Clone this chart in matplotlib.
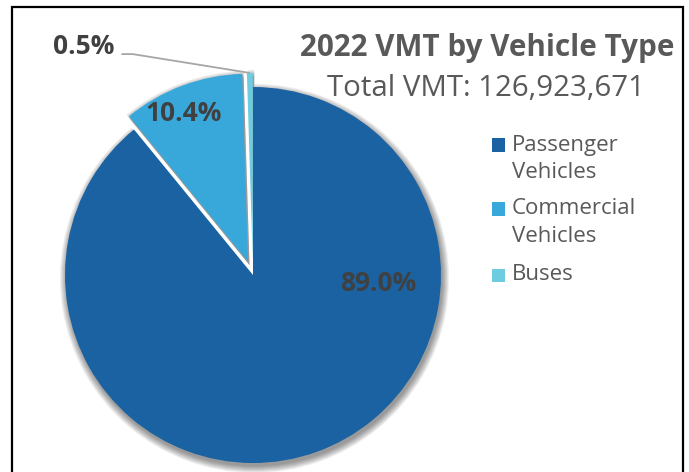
import numpy as np
import matplotlib.pyplot as plt
from matplotlib.patches import Wedge, Rectangle

# ------------------------------------------------------------------
# data
categories = ['Passenger\nVehicles', 'Commercial\nVehicles', 'Buses']
shares = [89.0, 10.4, 0.5]
pct_labels = ['89.0%', '10.4%', '0.5%']
colors = ['#1A62A1', '#38A8DB', '#6ECCE0']
explode = [0.0, 0.075, 0.075]

title = '2022 VMT by Vehicle Type'
subtitle = 'Total VMT: 126,923,671'

# ------------------------------------------------------------------
W, H = 689, 472
cx, cy, R = 253, 275, 188      # pie centre / radius in pixels

plt.rcParams['font.family'] = ['Open Sans', 'DejaVu Sans']
fig = plt.figure(figsize=(W / 100, H / 100), dpi=100)
ax = fig.add_axes([0, 0, 1, 1])
ax.axis('off')

wedges, _ = ax.pie(shares, colors=colors, explode=explode, startangle=90,
                   counterclock=False, radius=1.0,
                   wedgeprops=dict(linewidth=0, zorder=3))
ax.set_xlim(-cx / R, (W - cx) / R)
ax.set_ylim(-(H - cy) / R, cy / R)
ax.set_aspect('auto')

# soft shadow below the slices
for w in wedges:
    for k in range(8):
        sh = Wedge((w.center[0] + 0.008, w.center[1] - 0.018), w.r + 0.005 * k,
                   w.theta1, w.theta2, facecolor='black', alpha=0.06,
                   linewidth=0, zorder=1)
        ax.add_patch(sh)

# percentage labels
lab_kw = dict(fontsize=19, fontweight='bold', color='#404040', zorder=5)
ax.text(0.665, -0.045, pct_labels[0], ha='center', va='center', **lab_kw)
ax.text(-0.37, 0.86, pct_labels[1], ha='center', va='center', **lab_kw)
ax.text(-0.90, 1.215, pct_labels[2], ha='center', va='center', **lab_kw)

# leader line for the buses slice
bw = wedges[2]
mid = np.deg2rad((bw.theta1 + bw.theta2) / 2)
px = bw.center[0] + bw.r * np.cos(mid)
py = bw.center[1] + bw.r * np.sin(mid)
ax.plot([-0.70, -0.64, px], [1.175, 1.175, py], color='#A6A6A6', lw=1.3,
        zorder=4, solid_capstyle='butt')

# title block
fig.text(487 / W, 1 - 48 / H, title, ha='center', va='center',
         fontsize=21.3, fontweight='bold', color='#595959')
fig.text(486 / W, 1 - 88 / H, subtitle, ha='center', va='center',
         fontsize=21.2, color='#595959')

# legend (square aligned with first line of each label, like the original)
row_y = [145, 209, 275]        # pixel rows of the first text line
line_gap = 28
sq = 13
for lab, col, y0 in zip(categories, colors, row_y):
    fig.patches.append(Rectangle((492 / W, 1 - (y0 + sq / 2) / H), sq / W, sq / H,
                                 transform=fig.transFigure, facecolor=col,
                                 edgecolor='none'))
    for i, line in enumerate(lab.split('\n')):
        fig.text(512 / W, 1 - (y0 + i * line_gap) / H, line, ha='left',
                 va='center', fontsize=16, color='#595959')

# chart border
fig.patches.append(Rectangle((11.5 / W, -0.05), (683 - 11.5) / W, 1.05 - 7.5 / H,
                             transform=fig.transFigure, fill=False,
                             edgecolor='black', linewidth=1.6))

fig.savefig('out.png', dpi=100)
